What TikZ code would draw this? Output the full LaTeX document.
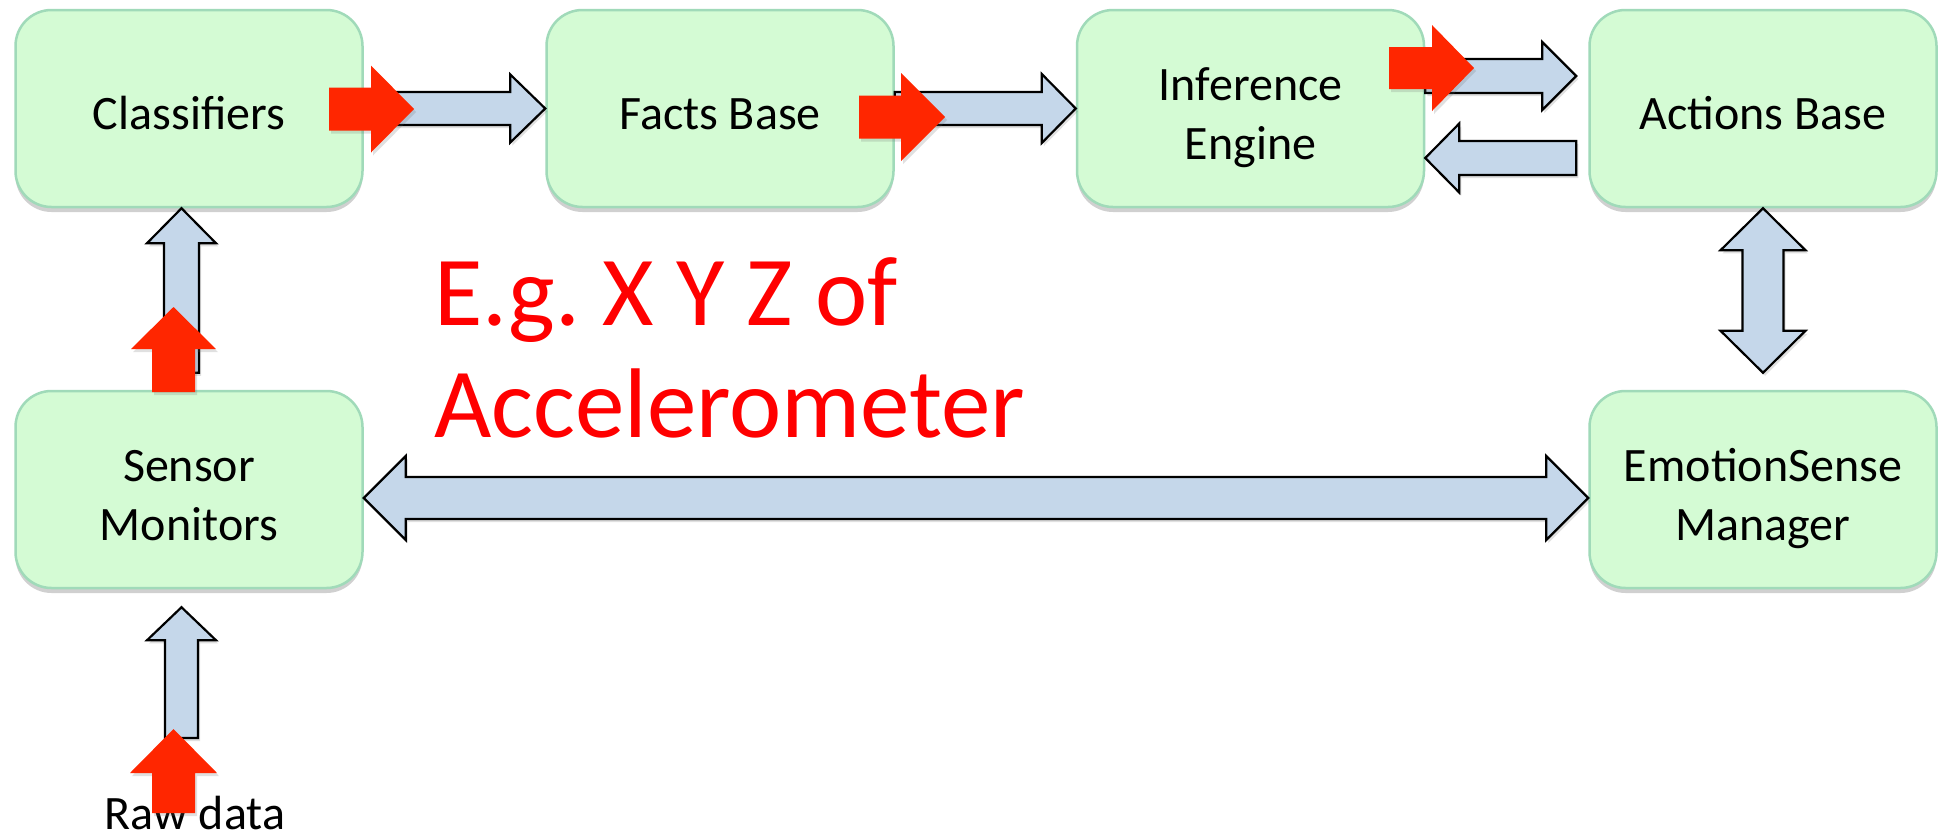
\documentclass[tikz,border=0pt]{standalone}
\usepackage{fontspec}
\setmainfont{Carlito}
\usetikzlibrary{calc,shadows}
\definecolor{boxfill}{RGB}{212,251,212}
\definecolor{boxline}{RGB}{160,218,185}
\definecolor{arrfill}{RGB}{197,215,234}
\definecolor{redarr}{RGB}{255,38,0}
\definecolor{redtxt}{RGB}{255,0,0}
% #1 style, #2 from, #3 to (tip), #4 shaft half width, #5 head half width, #6 head length
\newcommand{\singlearrow}[6]{%
  \coordinate (saH) at ($(#3)!#6pt!(#2)$);
  \draw[#1] ($(#2)!#4pt!90:(#3)$) -- ($(saH)!#4pt!-90:(#2)$) -- ($(saH)!#5pt!-90:(#2)$)
    -- (#3) -- ($(saH)!#5pt!90:(#2)$) -- ($(saH)!#4pt!90:(#2)$) -- ($(#2)!#4pt!-90:(#3)$) -- cycle;
}
\newcommand{\doublearrow}[6]{%
  \coordinate (daA) at ($(#2)!#6pt!(#3)$);
  \coordinate (daB) at ($(#3)!#6pt!(#2)$);
  \draw[#1] (#2) -- ($(daA)!#5pt!90:(#3)$) -- ($(daA)!#4pt!90:(#3)$) -- ($(daB)!#4pt!-90:(#2)$)
    -- ($(daB)!#5pt!-90:(#2)$) -- (#3) -- ($(daB)!#5pt!90:(#2)$) -- ($(daB)!#4pt!90:(#2)$)
    -- ($(daA)!#4pt!-90:(#3)$) -- ($(daA)!#5pt!-90:(#3)$) -- cycle;
}
\frenchspacing
\begin{document}
\begin{tikzpicture}[x=1pt,y=-1pt,
  box/.style={draw=boxline, line width=2.5pt, fill=boxfill, rounded corners=36pt,
    minimum width=347pt, minimum height=197pt, inner sep=0pt, align=center,
    font=\fontsize{48}{59}\selectfont,
    drop shadow={shadow xshift=0pt, shadow yshift=-5pt, opacity=0.3, fill=black!60}},
  boxone/.style={box, text height=41pt, text depth=0pt},
  boxtwo/.style={box, text height=102pt, text depth=0pt},
  blockarrow/.style={draw=black, line width=2.2pt, fill=arrfill, line join=miter,
    drop shadow={shadow xshift=2pt, shadow yshift=-3pt, opacity=0.2, fill=black!60}},
  markarrow/.style={fill=redarr, draw=none,
    drop shadow={shadow xshift=2pt, shadow yshift=-3pt, opacity=0.2, fill=black!60}},
  plaintext/.style={inner sep=0pt, font=\fontsize{48}{58}\selectfont}
]
\fill[white] (0,0) rectangle (1946,836);
\useasboundingbox (0,0) rectangle (1946,836);

\node[boxone] (cls) at (189,108.5) {Classifiers};
\node[boxone] (facts) at (720,108.5) {Facts Base};
\node[boxtwo] (inf) at (1250.5,108.5) {Inference\\Engine};
\node[boxone] (act) at (1763,108.5) {Actions Base};
\node[boxtwo] (sen) at (189,489.5) {Sensor\\Monitors};
\node[boxtwo] (emo) at (1763,489.5) {EmotionSense\\Manager};

\node[plaintext, anchor=base] (raw) at (195,829) {Raw data};

\node[anchor=base west, inner sep=0pt, align=left, text=redtxt,
  font=\fontsize{99}{112}\selectfont] (eg) at (434,437) {E.g. X Y Z of\\Accelerometer};

% blue block arrows
\singlearrow{blockarrow}{cls.east}{facts.west}{16.5}{34}{35}
\singlearrow{blockarrow}{facts.east}{inf.west}{16.5}{34.5}{34}
\coordinate (b3s) at ([yshift=32.5pt]inf.east);
\coordinate (b3e) at ([xshift=-12pt,yshift=32.5pt]act.west);
\singlearrow{blockarrow}{b3s}{b3e}{17}{34}{34}
\coordinate (b4s) at ([xshift=-12pt,yshift=-49.5pt]act.west);
\coordinate (b4e) at ([yshift=-49.5pt]inf.east);
\singlearrow{blockarrow}{b4s}{b4e}{17}{34.5}{34}
\coordinate (b5s) at ([xshift=-7.5pt,yshift=17pt]sen.north);
\coordinate (b5e) at ([xshift=-7.5pt]cls.south);
\singlearrow{blockarrow}{b5s}{b5e}{17.5}{34.5}{35}
\coordinate (b6e) at ([yshift=17pt]emo.north);
\doublearrow{blockarrow}{act.south}{b6e}{20.5}{42.5}{42}
\coordinate (b7s) at ([yshift=-8.5pt]sen.east);
\coordinate (b7e) at ([yshift=-8.5pt]emo.west);
\doublearrow{blockarrow}{b7s}{b7e}{21}{42}{42}
\coordinate (b8s) at (181.5,738);
\coordinate (b8e) at ([xshift=-7.5pt,yshift=-18pt]sen.south);
\singlearrow{blockarrow}{b8s}{b8e}{16.5}{34.5}{33}

% red marker arrows
\coordinate (r1s) at (329,109); \coordinate (r1e) at (414,109);
\singlearrow{markarrow}{r1s}{r1e}{21.5}{43.5}{43}
\coordinate (r2s) at (859,117); \coordinate (r2e) at (945,117);
\singlearrow{markarrow}{r2s}{r2e}{21.5}{44}{44}
\coordinate (r3s) at (1389,68); \coordinate (r3e) at (1474,68);
\singlearrow{markarrow}{r3s}{r3e}{21}{43}{42}
\coordinate (r4s) at (173.5,392); \coordinate (r4e) at (173.5,307);
\singlearrow{markarrow}{r4s}{r4e}{21.5}{42.5}{42}
\coordinate (r5s) at (173.5,813); \coordinate (r5e) at (173.5,729);
\singlearrow{markarrow}{r5s}{r5e}{21.5}{43.5}{44}
\end{tikzpicture}
\end{document}
